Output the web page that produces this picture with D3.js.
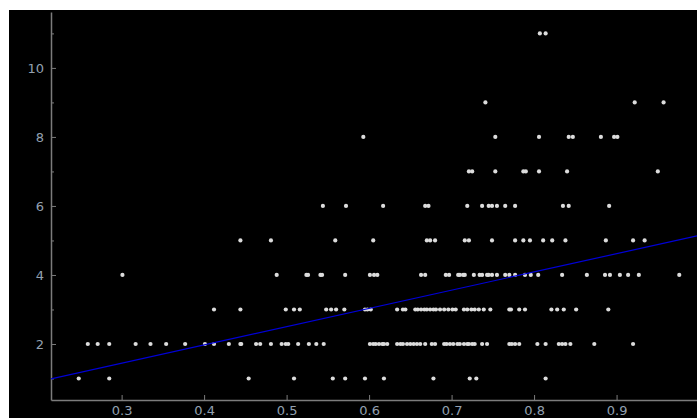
<!DOCTYPE html>
<html>
<head>
<meta charset="utf-8">
<script src="https://cdn.jsdelivr.net/npm/d3@7"></script>
<style>
  html, body { margin: 0; padding: 0; background: #fff; }
  svg { display: block; }
  .axis path, .axis line { stroke: #7c7c7c; }
  .axis text { fill: #93a0b0; font-family: "DejaVu Sans", sans-serif; font-size: 13px; }
</style>
</head>
<body>
<script>
// x values of the points, one list per y value (y is integer)
var y1 = [0.248, 0.285, 0.454, 0.509, 0.556, 0.571, 0.595, 0.618, 0.678, 0.722, 0.730, 0.814];
var y2 = [0.259, 0.271, 0.285, 0.317, 0.335, 0.354, 0.377, 0.401, 0.412, 0.430, 0.444, 0.445,
          0.463, 0.468, 0.481, 0.494, 0.499, 0.502, 0.514, 0.527, 0.536, 0.545, 0.601, 0.605,
          0.608, 0.612, 0.616, 0.618, 0.622, 0.634, 0.638, 0.641, 0.646, 0.650, 0.654, 0.658,
          0.662, 0.668, 0.676, 0.680, 0.691, 0.694, 0.698, 0.702, 0.707, 0.710, 0.715, 0.719,
          0.721, 0.725, 0.728, 0.737, 0.743, 0.770, 0.773, 0.777, 0.782, 0.804, 0.814, 0.830,
          0.834, 0.838, 0.844, 0.873, 0.920];
var y3 = [0.412, 0.444, 0.499, 0.509, 0.516, 0.548, 0.554, 0.560, 0.570, 0.595, 0.598, 0.602,
          0.634, 0.641, 0.644, 0.656, 0.659, 0.663, 0.667, 0.670, 0.674, 0.678, 0.681, 0.686,
          0.691, 0.696, 0.701, 0.705, 0.715, 0.719, 0.724, 0.728, 0.733, 0.739, 0.747, 0.770,
          0.772, 0.782, 0.789, 0.821, 0.828, 0.836, 0.851, 0.890];
var y4 = [0.301, 0.488, 0.524, 0.526, 0.541, 0.543, 0.571, 0.601, 0.606, 0.610, 0.663, 0.668,
          0.693, 0.697, 0.708, 0.710, 0.714, 0.716, 0.727, 0.734, 0.737, 0.743, 0.745, 0.749,
          0.755, 0.765, 0.770, 0.777, 0.789, 0.796, 0.805, 0.834, 0.864, 0.886, 0.892, 0.904,
          0.914, 0.927, 0.976];
var y5 = [0.444, 0.481, 0.559, 0.605, 0.670, 0.674, 0.680, 0.716, 0.721, 0.749, 0.777, 0.787,
          0.795, 0.811, 0.822, 0.838, 0.887, 0.920, 0.934];
var y6 = [0.544, 0.572, 0.617, 0.668, 0.672, 0.719, 0.737, 0.745, 0.749, 0.755, 0.765, 0.777,
          0.835, 0.842, 0.891];
var y7 = [0.721, 0.725, 0.753, 0.787, 0.790, 0.806, 0.840, 0.950];
var y8 = [0.593, 0.753, 0.806, 0.842, 0.847, 0.881, 0.897, 0.901];
var y9 = [0.741, 0.922, 0.957];
var y11 = [0.807, 0.814];

var rows = [[1, y1], [2, y2], [3, y3], [4, y4], [5, y5], [6, y6], [7, y7], [8, y8], [9, y9], [11, y11]];

// fitted line y = intercept + slope * x
var fitSlope = 5.29;
var fitIntercept = -0.144;

var xTicks = [0.3, 0.4, 0.5, 0.6, 0.7, 0.8, 0.9];
var yTicks = [2, 4, 6, 8, 10];
var yMinorTicks = [1, 3, 5, 7, 9, 11];

var points = [];
rows.forEach(function (r) {
  r[1].forEach(function (x) { points.push({x: x, y: r[0]}); });
});

var width = 697, height = 418;
var plotLeft = 51, plotRight = 697, plotTop = 12, plotBottom = 400;

var svg = d3.select("body").append("svg")
  .attr("width", width)
  .attr("height", height);

svg.append("rect")
  .attr("x", 9).attr("y", 10)
  .attr("width", width - 9).attr("height", height - 10)
  .attr("fill", "#000");

var x = d3.scaleLinear().domain([0.2144, 0.9975]).range([plotLeft, plotRight]);
var y = d3.scaleLinear().domain([0.377, 11.62]).range([plotBottom, plotTop]);

svg.append("clipPath").attr("id", "plot")
  .append("rect")
  .attr("x", plotLeft).attr("y", plotTop)
  .attr("width", plotRight - plotLeft).attr("height", plotBottom - plotTop);

// minor y ticks
svg.append("g")
  .attr("class", "axis")
  .attr("transform", "translate(" + plotLeft + ",0)")
  .call(d3.axisLeft(y).tickValues(yMinorTicks).tickSize(-3).tickSizeOuter(0).tickFormat(""))
  .call(function (g) { g.select(".domain").remove(); });

var yAxis = svg.append("g")
  .attr("class", "axis")
  .attr("transform", "translate(" + plotLeft + ",0)")
  .call(d3.axisLeft(y).tickValues(yTicks).tickSize(-5).tickSizeOuter(0).tickPadding(7));
yAxis.select(".domain").attr("stroke-width", 1.5);

var xAxis = svg.append("g")
  .attr("class", "axis")
  .attr("transform", "translate(0," + plotBottom + ")")
  .call(d3.axisBottom(x).tickValues(xTicks).tickSize(-5).tickSizeOuter(0).tickPadding(6)
    .tickFormat(d3.format(".1f")));
xAxis.select(".domain").attr("stroke-width", 1.5);

var plot = svg.append("g").attr("clip-path", "url(#plot)");

plot.selectAll("circle")
  .data(points)
  .enter()
  .append("circle")
  .attr("cx", function (d) { return x(d.x); })
  .attr("cy", function (d) { return y(d.y); })
  .attr("r", 2.1)
  .attr("fill", "#dcdcdc");

var xd = x.domain();
plot.append("line")
  .attr("x1", x(xd[0]))
  .attr("y1", y(fitIntercept + fitSlope * xd[0]))
  .attr("x2", x(xd[1]))
  .attr("y2", y(fitIntercept + fitSlope * xd[1]))
  .attr("stroke", "#0000d8")
  .attr("stroke-width", 1.2);
</script>
</body>
</html>
